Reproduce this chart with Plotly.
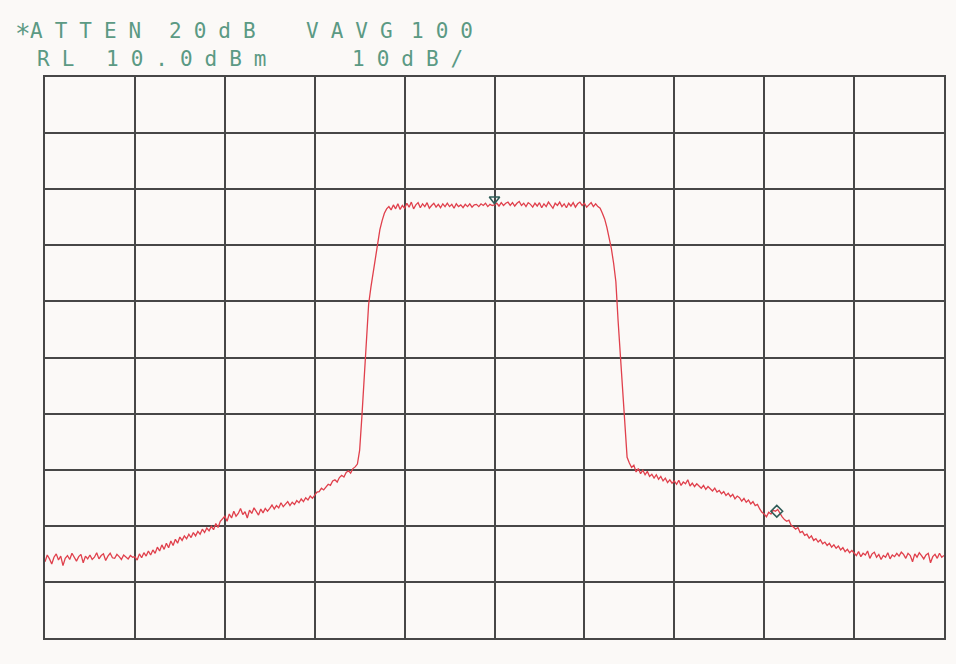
import numpy as np
import plotly.graph_objects as go

# ---- data -------------------------------------------------------------
# sweep positions in graticule divisions (401-point sweep, 0..10 div)
SWEEP_START_DIV = 0.0
SWEEP_STOP_DIV = 10.0
SWEEP_POINTS = 401

# trace level in dBm (20 points per half division)
level_dbm = [
    # 0.0 - 0.475
    -76.4, -75.2, -75.9, -76.8, -75.6, -75.0, -76.1, -75.4, -77.1, -75.8,
    -75.3, -76.0, -74.9, -75.7, -76.3, -75.5, -75.1, -76.6, -75.4, -75.9,
    # 0.5 - 0.975
    -75.2, -76.0, -75.6, -74.8, -75.9, -75.3, -75.0, -76.2, -75.4, -74.9,
    -75.7, -75.8, -75.1, -75.5, -76.0, -75.2, -75.6, -75.9, -75.3, -75.6,
    # 1.0 - 1.475
    -75.5, -76.1, -75.0, -75.7, -74.8, -75.4, -74.5, -75.2, -74.3, -74.9,
    -73.8, -74.5, -73.4, -74.2, -73.1, -73.9, -72.7, -73.5, -72.4, -73.1,
    # 1.5 - 1.975
    -72.0, -72.6, -71.8, -72.3, -71.5, -72.1, -71.2, -71.8, -71.0, -71.5,
    -70.6, -71.2, -70.4, -70.9, -70.1, -70.7, -69.6, -70.3, -69.2, -68.8,
    # 2.0 - 2.475
    -68.3, -69.2, -67.9, -68.6, -67.4, -68.3, -67.8, -66.9, -68.0, -67.5,
    -68.6, -67.2, -67.8, -66.8, -67.6, -68.1, -67.0, -67.7, -66.9, -67.4,
    # 2.5 - 2.975
    -66.9, -66.3, -67.0, -66.4, -66.8, -65.9, -66.6, -66.1, -65.7, -66.4,
    -65.8, -66.2, -65.5, -65.9, -65.2, -65.7, -65.0, -65.4, -64.7, -65.1,
    # 3.0 - 3.475
    -64.5, -64.0, -63.9, -63.3, -63.6, -63.0, -62.6, -62.8, -62.0, -61.8,
    -62.2, -61.4, -61.0, -61.3, -60.5, -60.2, -60.6, -59.8, -59.5, -59.0,
    # 3.5 - 3.975
    -56.5, -50.5, -43.0, -36.5, -30.5, -27.5, -25.0, -22.0, -19.2, -17.2,
    -15.6, -14.3, -13.5, -13.1, -13.7, -12.8, -13.5, -12.6, -13.6, -12.9,
    # 4.0 - 4.475
    -13.4, -12.5, -13.2, -12.3, -13.5, -12.8, -12.4, -13.3, -12.6, -13.1,
    -12.4, -13.4, -12.9, -12.5, -13.2, -12.7, -13.3, -12.6, -13.1, -12.5,
    # 4.5 - 4.975
    -13.1, -12.7, -13.4, -12.6, -13.1, -12.8, -13.3, -12.7, -13.1, -12.6,
    -13.2, -12.8, -12.7, -13.1, -12.6, -12.9, -12.5, -13.1, -12.7, -12.9,
    # 5.0 - 5.475
    -12.8, -12.5, -13.0, -12.4, -12.9, -12.5, -12.3, -12.9, -12.4, -13.0,
    -12.5, -12.2, -12.9, -12.5, -13.1, -12.4, -12.7, -13.2, -12.5, -13.0,
    # 5.5 - 5.975
    -12.4, -13.3, -12.6, -13.1, -12.3, -12.9, -13.4, -12.5, -12.9, -12.3,
    -13.1, -12.6, -13.3, -12.5, -13.0, -12.4, -13.2, -12.6, -12.3, -12.9,
    # 6.0 - 6.475
    -12.5, -13.2, -12.7, -12.4, -13.1, -12.6, -13.1, -13.4, -14.3, -15.3,
    -16.8, -18.5, -20.6, -23.2, -26.5, -33.5, -40.0, -46.0, -52.5, -57.8,
    # 6.5 - 6.975
    -58.8, -59.6, -59.2, -60.4, -59.8, -60.7, -60.1, -60.9, -60.3, -61.2,
    -60.8, -61.5, -60.9, -61.7, -61.2, -62.0, -61.5, -62.3, -61.8, -62.4,
    # 7.0 - 7.475
    -62.0, -62.6, -61.9, -62.8, -62.2, -62.5, -61.8, -62.9, -62.4, -63.0,
    -62.5, -62.9, -63.3, -62.8, -63.5, -63.0, -63.4, -63.8, -63.3, -64.0,
    # 7.5 - 7.975
    -63.7, -64.3, -63.9, -64.6, -64.2, -64.8, -64.4, -65.2, -64.7, -65.0,
    -65.6, -65.1, -65.8, -65.4, -66.1, -65.7, -66.4, -66.2, -67.0, -67.6,
    # 8.0 - 8.475
    -67.9, -68.4, -67.6, -67.9, -67.2, -67.4, -67.1, -67.8, -68.4, -68.9,
    -69.2, -69.0, -69.9, -70.2, -70.6, -70.3, -71.2, -71.0, -71.7, -71.5,
    # 8.5 - 8.975
    -72.2, -71.8, -72.6, -72.3, -72.9, -72.5, -73.2, -72.9, -73.5, -73.1,
    -73.8, -73.4, -74.0, -73.6, -74.3, -73.9, -74.6, -74.2, -74.8, -74.4,
    # 9.0 - 9.475
    -74.8, -75.3, -74.6, -75.5, -74.9, -75.2, -74.5, -75.8, -75.0, -74.7,
    -75.6, -75.1, -76.0, -75.3, -75.6, -74.8, -75.9, -75.2, -75.5, -74.9,
    # 9.5 - 9.975
    -75.4, -74.7, -75.1, -75.8, -74.9, -75.3, -76.4, -75.0, -75.6, -74.8,
    -75.3, -75.9, -75.2, -74.9, -76.6, -75.5, -75.1, -75.8, -74.9, -75.6,
    # 10.0
    -75.3,
]

# markers: position (div) and level (dBm)
marker_div = [5.0, 8.14]
marker_dbm = [-11.8, -67.4]
marker_symbols = ["triangle-down-open", "diamond-open"]

# header annotation words
header_line1 = ["ATTEN", "20dB", "VAVG", "100"]
header_line2 = ["RL", "10.0dBm", "10dB/"]
header_flag = "*"

REF_LEVEL_DBM = 10.0
DB_PER_DIV = 10.0
N_DIV = 10

# ---- layout geometry (pixels) ----------------------------------------
W, H = 956, 664
PL, PR, PT, PB = 44.5, 946.0, 76.5, 638.5

word_left_1 = [28, 168, 305, 411]
word_left_2 = [35, 105, 351]
flag_left = 13
line1_y, line2_y = 30, 58.5

TEXT_COLOR = "#5b9a84"
GRID_COLOR = "#474747"
TRACE_COLOR = "#e0404c"
BG = "#fbf9f7"
FONT = "DejaVu Sans Mono"


def px_x(px):
    return (px - PL) / (PR - PL)


def px_y(py):
    return (PB - py) / (PB - PT)


freq_div = np.linspace(SWEEP_START_DIV, SWEEP_STOP_DIV, SWEEP_POINTS)

fig = go.Figure()
fig.add_trace(go.Scatter(
    x=freq_div, y=level_dbm, mode="lines",
    line=dict(color=TRACE_COLOR, width=1.3),
    hoverinfo="skip", showlegend=False,
))
fig.add_trace(go.Scatter(
    x=marker_div, y=marker_dbm, mode="markers",
    marker=dict(symbol=marker_symbols, size=9, color="#2f5d58",
                line=dict(width=1.6, color="#2f5d58")),
    hoverinfo="skip", showlegend=False,
))

annotations = [dict(
    text=header_flag, x=px_x(flag_left), y=px_y(line1_y + 3),
    xref="paper", yref="paper", xanchor="left", yanchor="middle",
    showarrow=False, borderpad=0,
    font=dict(family=FONT, size=26, color=TEXT_COLOR),
)]
for word, left in zip(header_line1, word_left_1):
    annotations.append(dict(
        text=f'<span style="letter-spacing:12px">{word}</span>',
        x=px_x(left), y=px_y(line1_y), xref="paper", yref="paper",
        xanchor="left", yanchor="middle", showarrow=False, borderpad=0,
        font=dict(family=FONT, size=21, color=TEXT_COLOR),
    ))
for word, left in zip(header_line2, word_left_2):
    annotations.append(dict(
        text=f'<span style="letter-spacing:12px">{word}</span>',
        x=px_x(left), y=px_y(line2_y), xref="paper", yref="paper",
        xanchor="left", yanchor="middle", showarrow=False, borderpad=0,
        font=dict(family=FONT, size=21, color=TEXT_COLOR),
    ))

y_bottom = REF_LEVEL_DBM - N_DIV * DB_PER_DIV
axis_common = dict(
    showgrid=True, gridcolor=GRID_COLOR, gridwidth=1.6,
    showline=True, linecolor=GRID_COLOR, linewidth=1.8, mirror=True,
    zeroline=False, showticklabels=False, ticks="",
)
fig.update_layout(
    width=W, height=H,
    margin=dict(l=PL, r=W - PR, t=PT, b=H - PB, pad=0),
    paper_bgcolor=BG, plot_bgcolor=BG,
    xaxis=dict(range=[0, N_DIV], dtick=1, tick0=0, **axis_common),
    yaxis=dict(range=[y_bottom, REF_LEVEL_DBM], dtick=DB_PER_DIV,
               tick0=y_bottom, **axis_common),
    annotations=annotations,
    showlegend=False,
)

fig.write_html("out.html", config={"displayModeBar": False},
               post_script="document.body.style.margin='0';")
